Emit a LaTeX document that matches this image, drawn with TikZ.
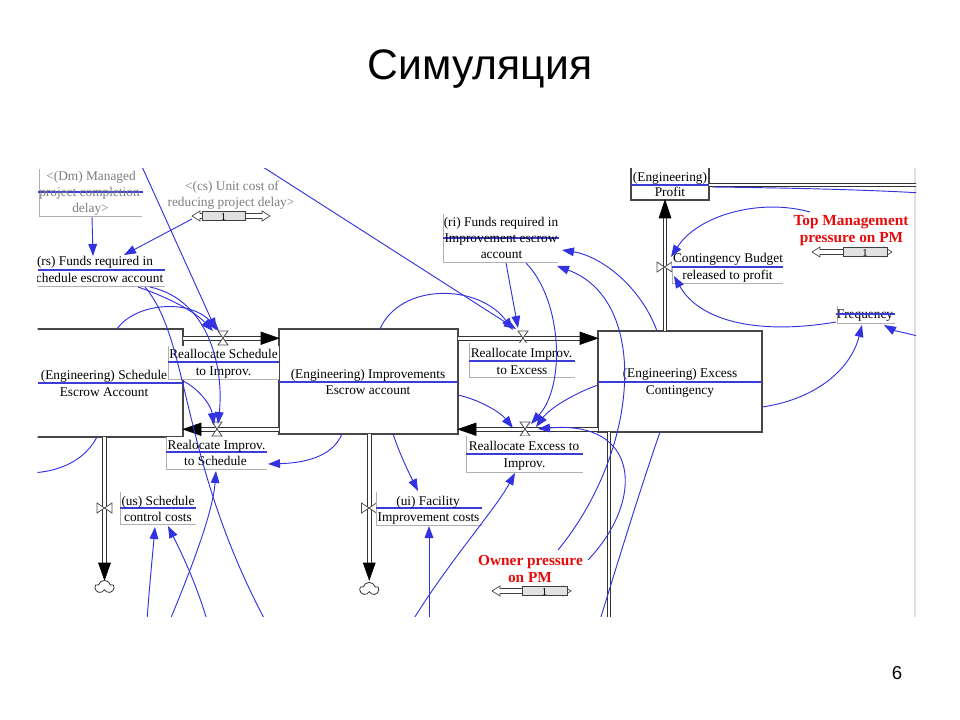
\documentclass[tikz,border=0pt]{standalone}
\usepackage{fontspec}
\setmainfont{Liberation Serif}
\newfontfamily\slidefont{Liberation Sans}
\usetikzlibrary{arrows.meta,shapes.symbols}

\definecolor{connblue}{RGB}{50,50,225}
\definecolor{nameblue}{RGB}{60,60,215}
\definecolor{stockgrey}{RGB}{70,70,70}
\definecolor{boxgrey}{RGB}{175,175,175}
\definecolor{ghost}{RGB}{125,125,125}
\definecolor{pressred}{RGB}{230,10,10}
\definecolor{knobgrey}{RGB}{225,225,225}

\tikzset{
  vtext/.style={font=\fontsize{10}{12}\selectfont, inner sep=0pt, anchor=base},
  ghosttext/.style={vtext, text=ghost},
  redtext/.style={font=\fontsize{11.5}{13}\selectfont\bfseries, text=pressred, inner sep=0pt, anchor=base},
  stockline/.style={draw=stockgrey, line width=1.1pt},
  nameline/.style={draw=nameblue, line width=0.8pt},
  labelframe/.style={draw=boxgrey, line width=0.7pt},
  pipe/.style={draw=black!80, line width=0.7pt, double=white, double distance=2pt},
  pipehead/.style={fill=black, draw=black, line width=0.4pt},
  valveshape/.style={draw=black!70, fill=white, line width=0.6pt},
  sinkcloud/.style={cloud, draw=black!80, fill=white, cloud puffs=5, aspect=1.3,
    minimum width=14pt, minimum height=10pt, inner sep=0pt, line width=0.6pt},
  conn/.style={draw=connblue, line width=0.7pt, -{Triangle[length=9pt,width=6.5pt]}},
  connfree/.style={draw=connblue, line width=0.7pt},
}

% input slider: left tip, knob left, knob right, right tip, y, name
\newcommand\vsslider[6]{%
  \draw[draw=black!75, fill=white, line width=0.5pt]
    (#1,#5) -- (#1+8,#5-5) -- (#1+8,#5-2.5) -- (#4-8,#5-2.5) -- (#4-8,#5-5) -- (#4,#5)
    -- (#4-8,#5+5) -- (#4-8,#5+2.5) -- (#1+8,#5+2.5) -- (#1+8,#5+5) -- cycle;
  \draw[draw=black!75, fill=knobgrey, line width=0.5pt] (#2,#5-4.5) rectangle (#3,#5+4.5);
  \node[font=\fontsize{8}{9}\selectfont, inner sep=0pt] (#6) at ({(#2+#3)/2},#5+0.5) {1};
}

\begin{document}
\begin{tikzpicture}[x=0.75pt,y=-0.75pt]
\useasboundingbox (0,0) rectangle (960,720);

\node[font=\slidefont\fontsize{32}{36}\selectfont, anchor=base, inner sep=0pt] (title) at (480,80) {Симуляция};
\node[font=\slidefont\fontsize{14}{16}\selectfont, anchor=base, inner sep=0pt] (pageno) at (897,679) {6};

\begin{scope}
\clip (37.5,169) rectangle (916,616);
\draw[draw=black!12, line width=0.8pt] (915,160) -- (915,620);

% ---------- stocks ----------
\fill[white] (38,329) rectangle (183,437);
\draw[stockline] (30,329) -- (183,329) -- (183,437) -- (30,437);
\draw[nameline] (38,383) -- (183,383);
\node[vtext] (sch1) at (104,379) {(Engineering) Schedule};
\node[vtext] (sch2) at (104,396) {Escrow Account};

\fill[white] (279,329) rectangle (458,434);
\draw[stockline] (279,329) rectangle (458,434);
\draw[nameline] (279,382) -- (458,382);
\node[vtext] (imp1) at (368,378) {(Engineering) Improvements};
\node[vtext] (imp2) at (368,394) {Escrow account};

\fill[white] (598,331) rectangle (762,432);
\draw[stockline] (598,331) rectangle (762,432);
\draw[nameline] (598,382) -- (762,382);
\node[vtext] (exc1) at (680,377) {(Engineering) Excess};
\node[vtext] (exc2) at (680,394) {Contingency};

\fill[white] (631,160) rectangle (709,200);
\draw[stockline] (631,160) -- (631,200) -- (709,200) -- (709,160);
\draw[nameline] (631,185) -- (709,185);
\node[vtext] (pro1) at (670,182) {(Engineering)};
\node[vtext] (pro2) at (670,197) {Profit};

% ---------- pipes ----------
\coordinate (pSIa) at (183,338.25);  \coordinate (pSIb) at (262,338.25);
\coordinate (pISa) at (279,429.25);  \coordinate (pISb) at (200,429.25);
\coordinate (pIEa) at (458,338.25);  \coordinate (pIEb) at (581,338.25);
\coordinate (pEIa) at (598,429.25);  \coordinate (pEIb) at (475,429.25);
\coordinate (pSoa) at (104.5,437);   \coordinate (pSob) at (104.5,564);
\coordinate (pIoa) at (369.25,434);  \coordinate (pIob) at (369.25,564);
\coordinate (pEoa) at (609,432);     \coordinate (pEob) at (609,625);
\coordinate (pPra) at (665,331);     \coordinate (pPrb) at (665,217);
\coordinate (pPxa) at (709,185);     \coordinate (pPxb) at (925,185);

\draw[pipe] (pSIa) -- (pSIb);
\draw[pipe] (pISa) -- (pISb);
\draw[pipe] (pIEa) -- (pIEb);
\draw[pipe] (pEIa) -- (pEIb);
\draw[pipe] (pSoa) -- (pSob);
\draw[pipe] (pIoa) -- (pIob);
\draw[pipe] (pEoa) -- (pEob);
\draw[pipe] (pPra) -- (pPrb);
\draw[pipe] (pPxa) -- (pPxb);

\fill[pipehead] (261,332) -- (279,338.25) -- (261,344.5) -- cycle;
\fill[pipehead] (201,423) -- (183,429.25) -- (201,435.5) -- cycle;
\fill[pipehead] (580,332) -- (598,338.25) -- (580,344.5) -- cycle;
\fill[pipehead] (476,423) -- (458,429.25) -- (476,435.5) -- cycle;
\fill[pipehead] (98.5,563) -- (104.5,580) -- (110.5,563) -- cycle;
\fill[pipehead] (363.25,563) -- (369.25,580) -- (375.25,563) -- cycle;
\fill[pipehead] (659,218) -- (665,200) -- (671,218) -- cycle;

% valves
\draw[valveshape] (218,331) -- (228,331) -- (218,345) -- (228,345) -- cycle;
\draw[valveshape] (212,422) -- (222,422) -- (212,436) -- (222,436) -- cycle;
\draw[valveshape] (518,331) -- (528,331) -- (518,345) -- (528,345) -- cycle;
\draw[valveshape] (520,422) -- (530,422) -- (520,436) -- (530,436) -- cycle;
\draw[valveshape] (97,503) -- (97,513) -- (112,503) -- (112,513) -- cycle;
\draw[valveshape] (361.5,503) -- (361.5,513) -- (376.5,503) -- (376.5,513) -- cycle;
\draw[valveshape] (657,262) -- (657,272) -- (672,262) -- (672,272) -- cycle;

% sinks
\node[sinkcloud] (sinkS) at (104.5,587) {};
\node[sinkcloud] (sinkI) at (369.25,589) {};

% ---------- rate and auxiliary labels ----------
\fill[white] (168,346) rectangle (279,379);
\draw[labelframe] (168,346) -- (168,379) -- (279,379);
\draw[nameline] (168,362) -- (279,362);
\node[vtext] (l1a) at (223.5,358) {Reallocate Schedule};
\node[vtext] (l1b) at (223.5,375) {to Improv.};

\fill[white] (166,437) rectangle (267,469);
\draw[labelframe] (166,437) -- (166,469) -- (267,469);
\draw[nameline] (166,452) -- (267,452);
\node[vtext] (l2a) at (216.5,449) {Realocate Improv.};
\node[vtext] (l2b) at (215.5,465) {to Schedule};

\fill[white] (469,343) rectangle (575,377);
\draw[labelframe] (469,343) -- (469,377) -- (575,377);
\draw[nameline] (469,361) -- (575,361);
\node[vtext] (l3a) at (521.5,357) {Reallocate Improv.};
\node[vtext] (l3b) at (522,374) {to Excess};

\fill[white] (466,436) rectangle (583,472);
\draw[labelframe] (466,436) -- (466,472) -- (583,472);
\draw[nameline] (466,454) -- (583,454);
\node[vtext] (l4a) at (524,450) {Reallocate Excess to};
\node[vtext] (l4b) at (524.5,467) {Improv.};

\fill[white] (120,492) rectangle (196,524);
\draw[labelframe] (120,492) -- (120,524) -- (196,524);
\draw[nameline] (120,508) -- (196,508);
\node[vtext] (us1) at (158,505) {(us) Schedule};
\node[vtext] (us2) at (158,521) {control costs};

\fill[white] (376,492) rectangle (482,525);
\draw[labelframe] (376,492) -- (376,525) -- (482,525);
\draw[nameline] (376,508) -- (482,508);
\node[vtext] (ui1) at (428,505) {(ui) Facility};
\node[vtext] (ui2) at (428.5,521) {Improvement costs};

\draw[labelframe] (39,169) -- (39,216) -- (142,216);
\draw[nameline] (38,192) -- (143,192);
\node[ghosttext] (dm1) at (91,181) {<(Dm) Managed};
\node[ghosttext] (dm2) at (89.5,197) {project completion};
\node[ghosttext] (dm3) at (90.5,213) {delay>};

\node[ghosttext] (cs1) at (232,191) {<(cs) Unit cost of};
\node[ghosttext] (cs2) at (231,207) {reducing project delay>};

\draw[labelframe] (38,286) -- (165,286);
\draw[nameline] (38,270) -- (165,270);
\node[vtext] (rs1) at (95,266) {(rs) Funds required in};
\node[vtext] (rs2) at (97,282) {schedule escrow account};

\fill[white] (443,214) rectangle (558,262);
\draw[labelframe] (443,214) -- (443,262) -- (558,262);
\draw[nameline] (443,238) -- (559,238);
\node[vtext] (ri1) at (501,227) {(ri) Funds required in};
\node[vtext] (ri2) at (501,243) {Improvement escrow};
\node[vtext] (ri3) at (501.5,259) {account};

\fill[white] (672,251) rectangle (783,283);
\draw[labelframe] (672,267) -- (672,283) -- (783,283);
\draw[nameline] (672,267) -- (783,267);
\node[vtext] (cb1) at (728,263) {Contingency Budget};
\node[vtext] (cb2) at (727.5,280) {released to profit};

\draw[labelframe] (837,306) -- (837,323) -- (895,323);
\node[vtext] (fq) at (865,319) {Frequency};
\draw[nameline] (836,314) -- (895,314);

% ---------- connectors ----------
\coordinate (dmOut) at (92,217);     \coordinate (rsInA) at (93,256);
\coordinate (csOut) at (192,219);    \coordinate (rsInB) at (124,255);
\coordinate (topA) at (139,160);     \coordinate (vSIa) at (216,330);
\coordinate (topB) at (252,160);     \coordinate (vIEa) at (516,329);
\coordinate (rsOutA) at (138,287);   \coordinate (vSIb) at (213,331);
\coordinate (sOutA) at (117,329);    \coordinate (vSIc) at (219,331);
\coordinate (rsOutB) at (150,287);   \coordinate (vISa) at (218,424);
\coordinate (rsOutC) at (145,287);   \coordinate (botA) at (265,620);
\coordinate (sOutB) at (183,381);    \coordinate (vISb) at (214,425);
\coordinate (iOutA) at (342,434);    \coordinate (l2In) at (268,464);
\coordinate (sOutC) at (97,437);     \coordinate (leftA) at (30,473);
\coordinate (iOutB) at (380,329);    \coordinate (vIEb) at (513,330);
\coordinate (riOutA) at (506,263);   \coordinate (vIEc) at (518,328);
\coordinate (riOutB) at (526,263);   \coordinate (vEIa) at (531,424);
\coordinate (iOutC) at (458,395);    \coordinate (vEIb) at (513,428);
\coordinate (eOutA) at (598,385);    \coordinate (vEIc) at (536,427);
\coordinate (ownOutA) at (588,560);  \coordinate (vEId) at (538,429);
\coordinate (ownOutB) at (558,550);  \coordinate (riInA) at (557,266);
\coordinate (eOutB) at (657,331);    \coordinate (riInB) at (562,250);
\coordinate (eOutC) at (660,432);    \coordinate (botB) at (600,620);
\coordinate (botC) at (413,620);     \coordinate (l4In) at (515,473);
\coordinate (iOutD) at (393,434);    \coordinate (uiInA) at (418,491);
\coordinate (botD) at (429,620);     \coordinate (uiInB) at (429,526);
\coordinate (botE) at (147,620);     \coordinate (usInA) at (155,527);
\coordinate (botF) at (207,620);     \coordinate (usInB) at (168,526);
\coordinate (botG) at (170,620);     \coordinate (l2InB) at (216,471);
\coordinate (fqOut) at (836,322);    \coordinate (cbInA) at (674,276);
\coordinate (tmOut) at (810,212);    \coordinate (cbInB) at (671,257);
\coordinate (eOutD) at (762,407);    \coordinate (fqInA) at (862,325);
\coordinate (rightA) at (922,337);   \coordinate (fqInB) at (884,325);
\coordinate (pOut) at (712,187);     \coordinate (rightB) at (922,193);

\draw[conn] (dmOut) -- (rsInA);
\draw[conn] (csOut) -- (rsInB);
\draw[conn] (topA) -- (vSIa);
\draw[conn] (topB) -- (vIEa);
\draw[conn] (rsOutA) .. controls (170,298) and (195,312) .. (vSIb);
\draw[conn] (sOutA) .. controls (135,303) and (190,298) .. (vSIc);
\draw[conn] (rsOutB) .. controls (210,300) and (224,370) .. (vISa);
\draw[connfree] (rsOutC) .. controls (190,340) and (180,460) .. (botA);
\draw[conn] (sOutB) .. controls (198,388) and (211,405) .. (vISb);
\draw[conn] (iOutA) .. controls (332,458) and (302,463) .. (l2In);
\draw[connfree] (sOutC) .. controls (85,460) and (60,472) .. (leftA);
\draw[conn] (iOutB) .. controls (400,283) and (478,283) .. (vIEb);
\draw[conn] (riOutA) -- (vIEc);
\draw[conn] (riOutB) .. controls (562,300) and (566,385) .. (vEIa);
\draw[conn] (iOutC) .. controls (480,400) and (500,412) .. (vEIb);
\draw[conn] (eOutA) .. controls (575,393) and (550,408) .. (vEIc);
\draw[conn] (ownOutA) .. controls (645,500) and (640,420) .. (vEId);
\draw[conn] (ownOutB) .. controls (640,450) and (650,300) .. (riInA);
\draw[conn] (eOutB) .. controls (640,285) and (600,256) .. (riInB);
\draw[connfree] (eOutC) .. controls (640,490) and (620,555) .. (botB);
\draw[conn] (botC) .. controls (450,560) and (495,510) .. (l4In);
\draw[conn] (iOutD) .. controls (400,455) and (410,475) .. (uiInA);
\draw[conn] (botD) -- (uiInB);
\draw[conn] (botE) .. controls (150,580) and (153,550) .. (usInA);
\draw[conn] (botF) .. controls (195,580) and (180,550) .. (usInB);
\draw[conn] (botG) .. controls (195,560) and (213,510) .. (l2InB);
\draw[conn] (fqOut) .. controls (760,335) and (700,322) .. (cbInA);
\draw[conn] (tmOut) .. controls (760,198) and (698,215) .. (cbInB);
\draw[conn] (eOutD) .. controls (812,400) and (850,372) .. (fqInA);
\draw[conn] (rightA) .. controls (905,333) and (893,330) .. (fqInB);
\draw[connfree] (pOut) .. controls (800,188) and (870,190) .. (rightB);

% ---------- sliders ----------
\vsslider{192}{202}{245}{270}{216}{csKnob}
\vsslider{812}{843}{887}{892}{252}{tmKnob}
\vsslider{492}{522}{567}{571}{591}{ownKnob}

% ---------- pressure variables ----------
\node[redtext] (tm1) at (851,226) {Top Management};
\node[redtext] (tm2) at (851.5,243) {pressure on PM};
\node[redtext] (own1) at (530.5,565) {Owner pressure};
\node[redtext] (own2) at (530,582) {on PM};
\end{scope}
\end{tikzpicture}
\end{document}
